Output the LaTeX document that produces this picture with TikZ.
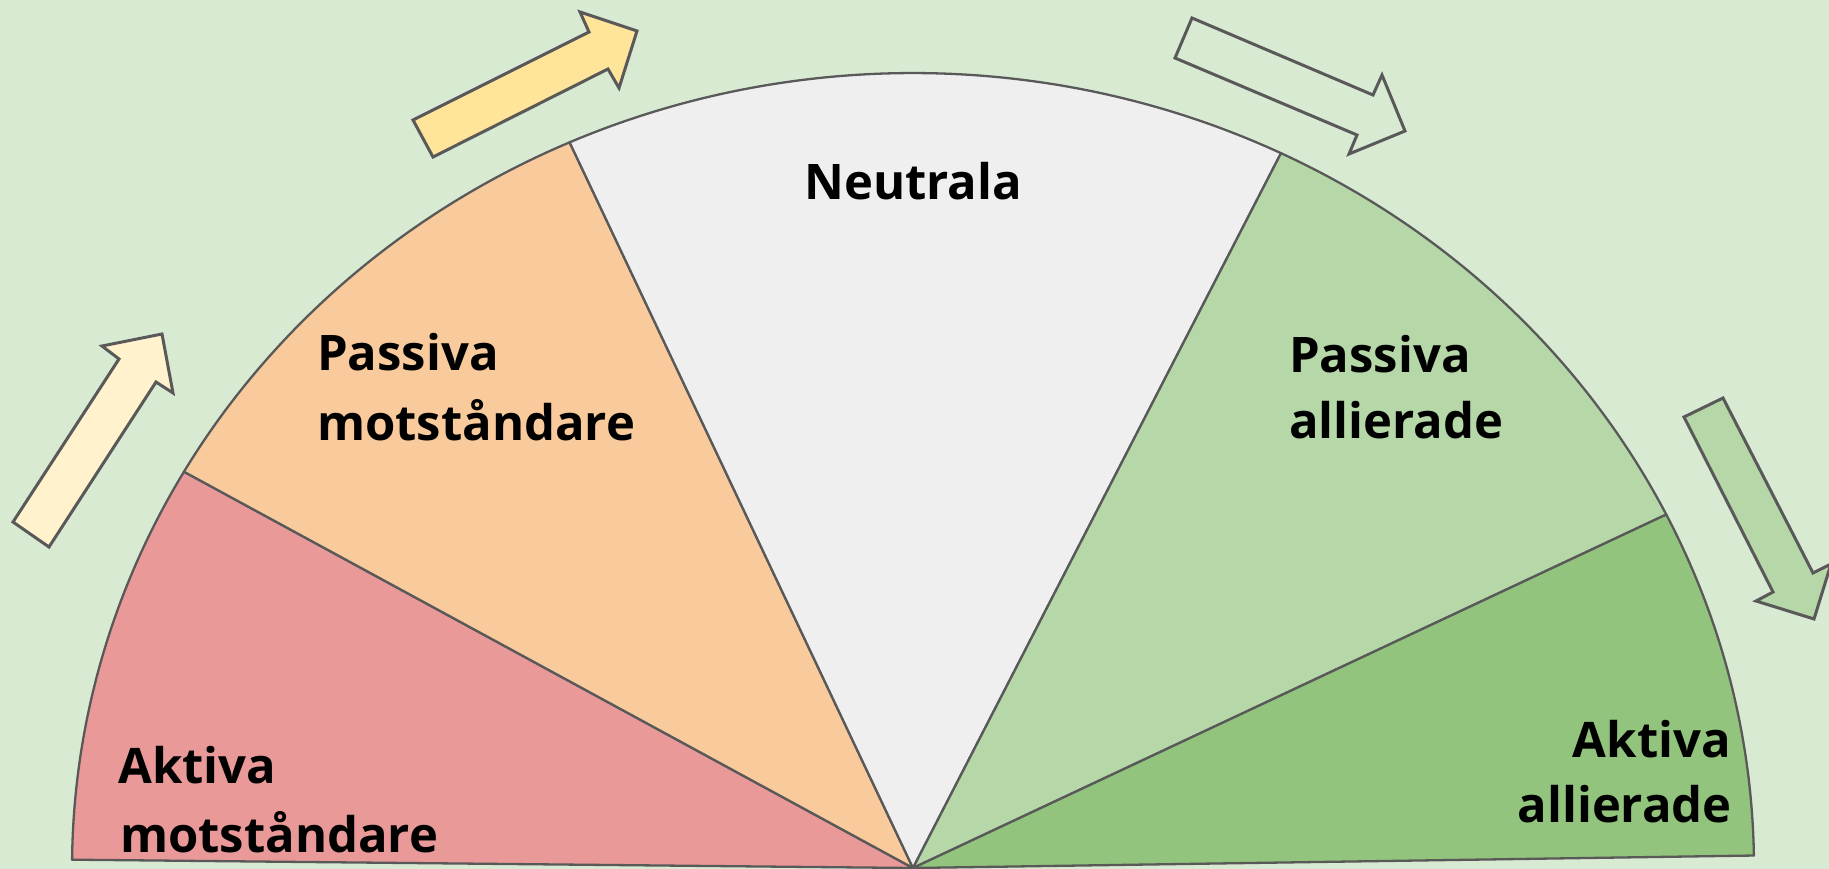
\documentclass[tikz,border=0pt]{standalone}
\usepackage{fontspec}
\setmainfont{Open Sans}
\definecolor{bg}{HTML}{D9EAD3}
\definecolor{outl}{HTML}{595959}
\definecolor{cred}{HTML}{EA9999}
\definecolor{corange}{HTML}{F9CB9C}
\definecolor{cneutral}{HTML}{EFEFEF}
\definecolor{cpass}{HTML}{B6D7A8}
\definecolor{cact}{HTML}{93C47D}
\definecolor{yel1}{HTML}{FFF2CC}
\definecolor{yel2}{HTML}{FFE599}
\tikzset{
  slice/.style={draw=outl, line width=2.3pt, line join=round},
  bigarrow/.style={draw=outl, line width=3pt, line join=miter},
  lbl/.style={inner sep=0pt, font=\fontsize{49}{58}\selectfont\bfseries, text=black}
}
\newcommand{\sector}[3]{%
  \filldraw[slice, fill=#3] (0,0) -- (#1:841pt and 795pt)
    arc[start angle=#1, end angle=#2, x radius=841pt, y radius=795pt] -- cycle;}
\begin{document}
\begin{tikzpicture}[x=1pt, y=-1pt]
\useasboundingbox (0,0) rectangle (1829,869);
\fill[bg] (0,0) rectangle (1829,869);
\begin{scope}
\clip (0,0) rectangle (1829,869);
% arrows
\filldraw[bigarrow, fill=yel1] (13,522) -- (119,359) -- (102,346) -- (162,334) -- (173,393) -- (156,382) -- (49,547) -- cycle;
\filldraw[bigarrow, fill=yel2] (413,120) -- (589,32) -- (580,12) -- (637,31) -- (619,88) -- (608,69) -- (433,157) -- cycle;
\draw[bigarrow] (1192,18) -- (1373,95) -- (1382,75) -- (1405,131) -- (1349,154) -- (1357,135) -- (1175,58) -- cycle;
\filldraw[bigarrow, fill=cpass] (1684,417) -- (1773,592) -- (1756,601) -- (1814,619) -- (1831,564) -- (1813,573) -- (1723,398) -- cycle;
% sectors
\begin{scope}[shift={(913,868)}]
\sector{179.4}{150.1}{cred}
\sector{150.1}{114.1}{corange}
\sector{114.1}{64.05}{cneutral}
\sector{64.05}{26.4}{cpass}
\sector{26.4}{0.9}{cact}
\end{scope}
\end{scope}
% labels
\node[lbl, anchor=base west] (pm1) at (317,370) {Passiva};
\node[lbl, anchor=base west] (pm2) at (317,440) {motståndare};
\node[lbl, anchor=base west] (neu) at (804,200) {Neutrala};
\node[lbl, anchor=base west] (pa1) at (1289,372) {Passiva};
\node[lbl, anchor=base west] (pa2) at (1289,438) {allierade};
\node[lbl, anchor=base west] (am1) at (118,783) {Aktiva};
\node[lbl, anchor=base west] (am2) at (120,852) {motståndare};
\node[lbl, anchor=base east] (aa1) at (1731,757) {Aktiva};
\node[lbl, anchor=base east] (aa2) at (1732,822) {allierade};
\end{tikzpicture}
\end{document}
